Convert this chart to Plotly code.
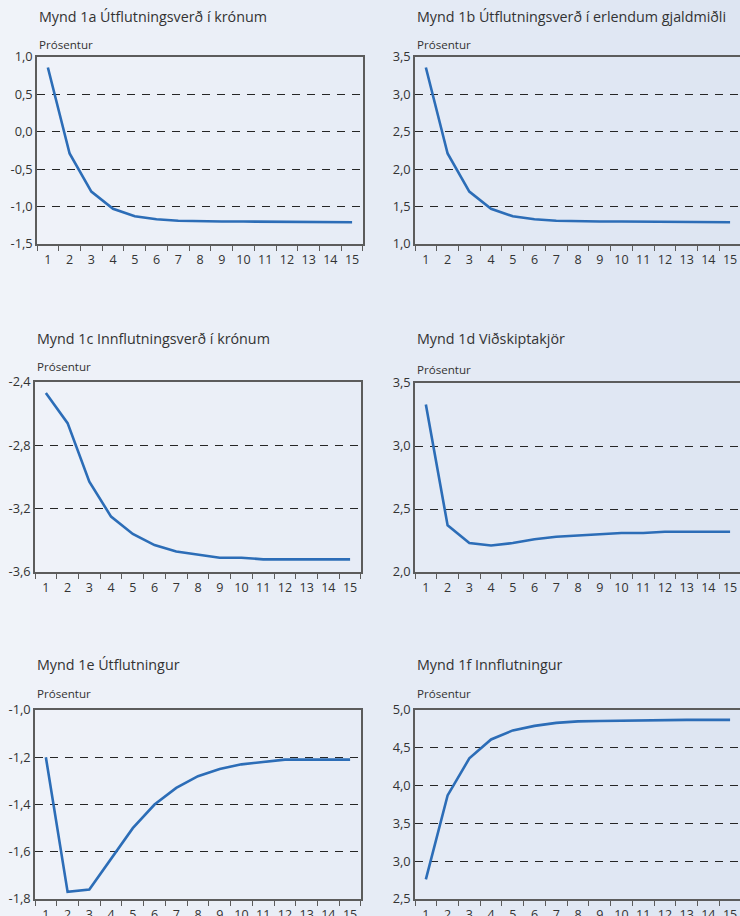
import plotly.graph_objects as go

periods = [str(i) for i in range(1, 16)]

titles = [
    "Mynd 1a Útflutningsverð í krónum",
    "Mynd 1b Útflutningsverð í erlendum gjaldmiðli",
    "Mynd 1c Innflutningsverð í krónum",
    "Mynd 1d Viðskiptakjör",
    "Mynd 1e Útflutningur",
    "Mynd 1f Innflutningur",
]
unit_label = "Prósentur"

values_1a = [0.86, -0.29, -0.80, -1.03, -1.13, -1.17, -1.19, -1.20, -1.20, -1.20, -1.20, -1.20, -1.21, -1.21, -1.21]
values_1b = [3.36, 2.21, 1.70, 1.47, 1.37, 1.33, 1.31, 1.30, 1.30, 1.30, 1.30, 1.30, 1.29, 1.29, 1.29]
values_1c = [-2.47, -2.66, -3.03, -3.25, -3.36, -3.43, -3.47, -3.49, -3.51, -3.51, -3.52, -3.52, -3.52, -3.52, -3.52]
values_1d = [3.33, 2.37, 2.23, 2.21, 2.23, 2.26, 2.28, 2.29, 2.30, 2.31, 2.31, 2.32, 2.32, 2.32, 2.32]
values_1e = [-1.20, -1.77, -1.76, -1.63, -1.50, -1.40, -1.33, -1.28, -1.25, -1.23, -1.22, -1.21, -1.21, -1.21, -1.21]
values_1f = [2.76, 3.87, 4.36, 4.61, 4.73, 4.79, 4.83, 4.85, 4.855, 4.86, 4.86, 4.87, 4.87, 4.87, 4.87]

yticks_1a = [-1.5, -1.0, -0.5, 0.0, 0.5, 1.0]
ylabels_1a = ["-1,5", "-1,0", "-0,5", "0,0", "0,5", "1,0"]
yticks_1b = [1.0, 1.5, 2.0, 2.5, 3.0, 3.5]
ylabels_1b = ["1,0", "1,5", "2,0", "2,5", "3,0", "3,5"]
yticks_1c = [-3.6, -3.2, -2.8, -2.4]
ylabels_1c = ["-3,6", "-3,2", "-2,8", "-2,4"]
yticks_1d = [2.0, 2.5, 3.0, 3.5]
ylabels_1d = ["2,0", "2,5", "3,0", "3,5"]
yticks_1e = [-1.8, -1.6, -1.4, -1.2, -1.0]
ylabels_1e = ["-1,8", "-1,6", "-1,4", "-1,2", "-1,0"]
yticks_1f = [2.5, 3.0, 3.5, 4.0, 4.5, 5.0]
ylabels_1f = ["2,5", "3,0", "3,5", "4,0", "4,5", "5,0"]

series = [values_1a, values_1b, values_1c, values_1d, values_1e, values_1f]
yticks = [yticks_1a, yticks_1b, yticks_1c, yticks_1d, yticks_1e, yticks_1f]
ylabels = [ylabels_1a, ylabels_1b, ylabels_1c, ylabels_1d, ylabels_1e, ylabels_1f]

W, H = 740, 916
CAT_W = 21.73  # pixel width of one period

# panel boxes in pixels: left, top, bottom, title y, unit-label y
boxes = [
    (37, 57, 244, 16, 44),
    (415, 57, 244, 16, 44),
    (35, 382, 572, 338, 367),
    (415, 383, 572, 338, 369),
    (35, 710, 899, 664, 693),
    (415, 710, 899, 664, 693),
]

FONT = "Open Sans"
TXT = "#333333"
LINE_BLUE = "#2c6db7"
FRAME = "#5c5c5c"

fig = go.Figure()
layout = dict(
    width=W, height=H,
    margin=dict(l=0, r=0, t=0, b=0),
    paper_bgcolor="#e7edf6",
    plot_bgcolor="rgba(0,0,0,0)",
    showlegend=False,
    font=dict(family=FONT, color=TXT, size=12),
    separators=",.",
)

shapes = []
# background gradient (light left -> slightly darker blue right)
n = 74
c0 = (240, 243, 249)
c1 = (221, 229, 242)
for i in range(n):
    t = i / (n - 1)
    col = tuple(round(c0[k] + (c1[k] - c0[k]) * t) for k in range(3))
    shapes.append(dict(type="rect", xref="paper", yref="paper",
                       x0=i / n, x1=(i + 1) / n + 0.002, y0=0, y1=1,
                       fillcolor="rgb(%d,%d,%d)" % col, line=dict(width=0),
                       layer="below"))

annotations = []
for idx, (left, top, bottom, ty, uy) in enumerate(boxes):
    k = idx + 1
    xa = "x" if k == 1 else "x%d" % k
    ya = "y" if k == 1 else "y%d" % k
    right = left + 15 * CAT_W
    clipped = right > W
    x1 = min(right, W)
    xr_end = -0.5 + (x1 - left) / CAT_W
    fig.add_trace(go.Scatter(
        x=periods, y=series[idx], mode="lines",
        line=dict(color=LINE_BLUE, width=2.6),
        xaxis=xa, yaxis=ya, hoverinfo="skip"))
    yt = yticks[idx]
    layout["xaxis" if k == 1 else "xaxis%d" % k] = dict(
        domain=[left / W, x1 / W], anchor=ya, type="category",
        range=[-0.5, xr_end], tickson="boundaries", ticks="outside",
        ticklen=5, tickwidth=1.2, tickcolor=FRAME, tickangle=0,
        ticklabelstandoff=3,
        showline=True, linecolor=FRAME, linewidth=1.5, mirror=True,
        showgrid=False, tickfont=dict(size=12.5, color=TXT),
        automargin=False, fixedrange=True)
    layout["yaxis" if k == 1 else "yaxis%d" % k] = dict(
        domain=[(H - bottom) / H, (H - top) / H], anchor=xa,
        range=[yt[0], yt[-1]], tickvals=yt, ticktext=ylabels[idx],
        ticks="", showline=True, linecolor=FRAME, linewidth=1.5,
        mirror=not clipped,
        showgrid=True, gridcolor="#262626", gridwidth=1.2, griddash="8px,7px",
        zeroline=False, tickfont=dict(size=12.8, color=TXT),
        automargin=False, fixedrange=True)
    annotations.append(dict(
        text=titles[idx], xref="paper", yref="paper",
        x=left / W, y=(H - ty) / H, xanchor="left", yanchor="middle",
        showarrow=False, font=dict(size=14.3, color=TXT, family=FONT)))
    annotations.append(dict(
        text=unit_label, xref="paper", yref="paper",
        x=left / W, y=(H - uy) / H, xanchor="left", yanchor="middle",
        showarrow=False, font=dict(size=11.6, color=TXT, family=FONT)))

layout["shapes"] = shapes
layout["annotations"] = annotations
fig.update_layout(**layout)
fig.write_html(
    "out.html",
    config={"displayModeBar": False},
    post_script="document.body.style.margin='0';document.body.style.overflow='hidden';",
)
